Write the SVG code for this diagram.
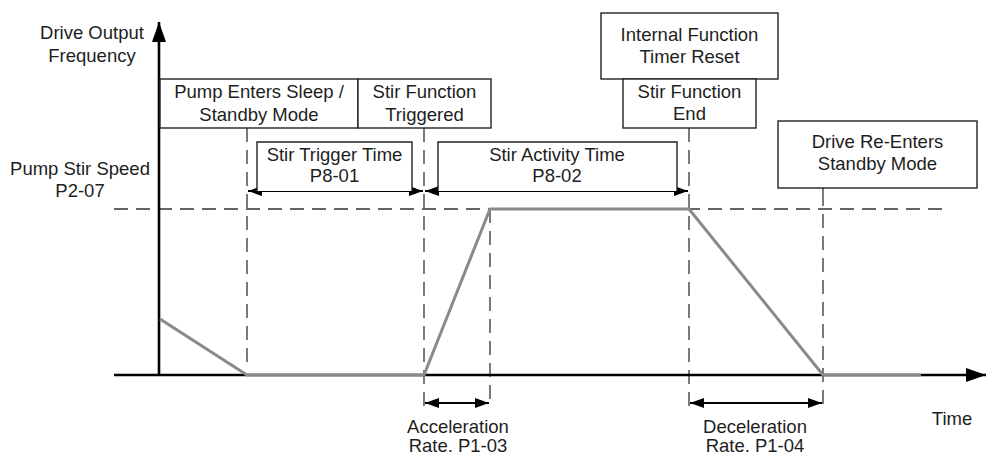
<svg xmlns="http://www.w3.org/2000/svg" width="987" height="457" viewBox="0 0 987 457">
<style>
.t{font-family:"Liberation Sans",Arial,sans-serif;font-size:18.5px;fill:#1e1e1e;text-anchor:middle}
.box{fill:#fff;stroke:#222;stroke-width:1.4}
.dash{fill:none;stroke:#333;stroke-width:1.3;stroke-dasharray:14 8}
.axis{fill:none;stroke:#000;stroke-width:2.6}
.sig{fill:none;stroke:#8a8a8a;stroke-width:3;stroke-linejoin:miter}
.dim{fill:none;stroke:#000;stroke-width:2;marker-start:url(#ah);marker-end:url(#ah)}
</style>
<defs>
<marker id="ah" viewBox="0 0 14 10" refX="14" refY="5" markerWidth="14" markerHeight="10" markerUnits="userSpaceOnUse" orient="auto-start-reverse">
<path d="M0,0 L14,5 L0,10 Z" fill="#000"/>
</marker>
<marker id="ax" viewBox="0 0 20 14" refX="20" refY="7" markerWidth="20" markerHeight="14" markerUnits="userSpaceOnUse" orient="auto">
<path d="M0,0 L20,7 L0,14 Z" fill="#000"/>
</marker>
</defs>
<rect width="987" height="457" fill="#fff"/>

<g id="connectors">
  <!-- guide lines -->
  <line class="dash" x1="114" y1="209" x2="950" y2="209"/>
  <line class="dash" x1="247" y1="128" x2="247" y2="362"/>
  <line class="dash" x1="424" y1="128" x2="424" y2="407"/>
  <line class="dash" x1="490" y1="209" x2="490" y2="407"/>
  <line class="dash" x1="689" y1="128" x2="689" y2="407"/>
  <line x1="823" y1="188" x2="823" y2="206" stroke="#333" stroke-width="1.3"/>
  <line class="dash" x1="823" y1="214" x2="823" y2="407"/>
  <!-- axes -->
  <line class="axis" x1="159" y1="376" x2="159" y2="22" marker-end="url(#ax)"/>
  <line class="axis" x1="114" y1="375" x2="986" y2="375" marker-end="url(#ax)"/>
  <!-- signal -->
  <polyline class="sig" points="160,319 247,375 424,375 490,209 689,209 823,375 921,375"/>
  <!-- dimension arrows -->
  <line class="dim" x1="248" y1="191" x2="423" y2="191"/>
  <line class="dim" x1="425" y1="191" x2="688" y2="191"/>
  <line class="dim" x1="425" y1="403" x2="489" y2="403"/>
  <line class="dim" x1="690" y1="403" x2="822" y2="403"/>
</g>

<g id="axis-y-label">
  <text class="t" x="92" y="39">Drive Output</text>
  <text class="t" x="92" y="62">Frequency</text>
</g>
<g id="stir-speed-label">
  <text class="t" x="80" y="175">Pump Stir Speed</text>
  <text class="t" x="80" y="197">P2-07</text>
</g>
<g id="time-label">
  <text class="t" x="952" y="425">Time</text>
</g>

<g id="sleep-box">
  <rect class="box" x="160" y="79" width="198" height="49"/>
  <text class="t" x="259" y="98">Pump Enters Sleep /</text>
  <text class="t" x="259" y="121">Standby Mode</text>
</g>
<g id="triggered-box">
  <rect class="box" x="358" y="79" width="133" height="49"/>
  <text class="t" x="424.5" y="98">Stir Function</text>
  <text class="t" x="424.5" y="121">Triggered</text>
</g>
<g id="trigger-time-box">
  <path class="box" d="M257,191 V142 H412 V191" fill="none"/>
  <text class="t" x="334.5" y="161">Stir Trigger Time</text>
  <text class="t" x="334.5" y="182">P8-01</text>
</g>
<g id="activity-time-box">
  <path class="box" d="M438,191 V142 H677 V191" fill="none"/>
  <text class="t" x="557" y="161">Stir Activity Time</text>
  <text class="t" x="557" y="182">P8-02</text>
</g>
<g id="timer-reset-box">
  <rect class="box" x="601" y="13" width="177" height="66"/>
  <text class="t" x="689.5" y="41">Internal Function</text>
  <text class="t" x="689.5" y="63">Timer Reset</text>
</g>
<g id="stir-end-box">
  <rect class="box" x="623" y="79" width="133" height="49"/>
  <text class="t" x="689.5" y="98">Stir Function</text>
  <text class="t" x="689.5" y="120">End</text>
</g>
<g id="reenter-box">
  <rect class="box" x="778" y="121" width="199" height="67"/>
  <text class="t" x="877.5" y="148">Drive Re-Enters</text>
  <text class="t" x="877.5" y="170">Standby Mode</text>
</g>
<g id="accel-label">
  <text class="t" x="458" y="433">Acceleration</text>
  <text class="t" x="458" y="452">Rate. P1-03</text>
</g>
<g id="decel-label">
  <text class="t" x="755" y="433">Deceleration</text>
  <text class="t" x="755" y="452">Rate. P1-04</text>
</g>
</svg>
